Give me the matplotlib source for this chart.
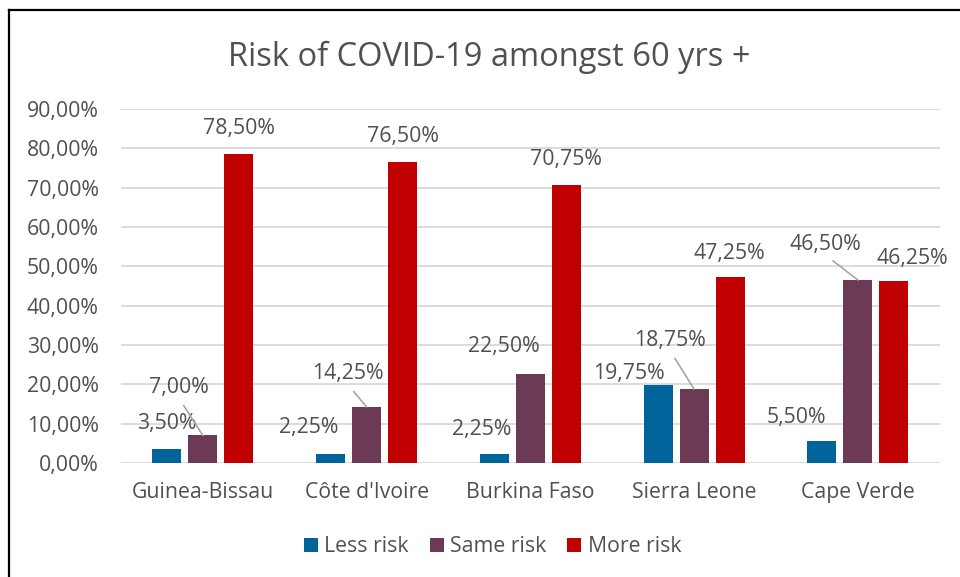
import matplotlib
matplotlib.use("Agg")
import matplotlib.pyplot as plt
from matplotlib.lines import Line2D
import numpy as np

# data
countries = ["Guinea-Bissau", "Côte d'Ivoire", "Burkina Faso", "Sierra Leone", "Cape Verde"]
less_risk = [3.50, 2.25, 2.25, 19.75, 5.50]
same_risk = [7.00, 14.25, 22.50, 18.75, 46.50]
more_risk = [78.50, 76.50, 70.75, 47.25, 46.25]
series_names = ["Less risk", "Same risk", "More risk"]
y_ticks = [0, 10, 20, 30, 40, 50, 60, 70, 80, 90]

colors = ["#00649A", "#6D3A55", "#C00000"]
text_grey = "#505050"
fs = 15.3
plt.rcParams["font.family"] = ["Open Sans", "DejaVu Sans"]

# label nudges (pixels) so the labels sit like in the original, leader = draw a line
label_moves = [
    [(0, 26, False), (-22, 27, False), (-13, 25, False), (-29, 12, False), (-25, 24, False)],
    [(-24, 48, True), (-19, 33, True), (-27, 28, False), (-24, 49, True), (-33, 36, True)],
    [(0, 26, False), (0, 26, False), (0, 25, False), (-1, 24, False), (18, 23, False)],
]

fig = plt.figure(figsize=(9.6, 5.77), dpi=100)
ax = fig.add_axes([0.126, 0.1976, 0.853, 0.6135])

x = np.arange(len(countries))
width = 0.177
step = 0.22
all_series = [less_risk, same_risk, more_risk]

for i, vals in enumerate(all_series):
    pos = x + (i - 1) * step
    ax.bar(pos, vals, width, color=colors[i], label=series_names[i], zorder=3)
    for j, v in enumerate(vals):
        dx, dy, leader = label_moves[i][j]
        txt = f"{v:.2f}%".replace(".", ",")
        if leader:
            ax.annotate(txt, xy=(pos[j], v), xytext=(dx, dy), textcoords="offset pixels",
                        ha="center", va="center", fontsize=fs, color=text_grey,
                        arrowprops=dict(arrowstyle="-", color="#A6A6A6", lw=1.2,
                                        shrinkA=4, shrinkB=0, relpos=(0.5, 0)))
        else:
            ax.annotate(txt, xy=(pos[j], v), xytext=(dx, dy), textcoords="offset pixels",
                        ha="center", va="center", fontsize=fs, color=text_grey)

ax.set_xlim(-0.5, len(countries) - 0.5)
ax.set_ylim(0, 90)
ax.set_yticks(y_ticks)
ax.set_yticklabels([f"{t:.2f}%".replace(".", ",") for t in y_ticks])
ax.set_xticks(x)
ax.set_xticklabels(countries)
ax.tick_params(axis="both", length=0, labelsize=fs, labelcolor=text_grey)
ax.tick_params(axis="y", pad=16)
ax.tick_params(axis="x", pad=14)
ax.grid(axis="y", color="#D9D9D9", linewidth=1.3, zorder=0)
for s in ax.spines.values():
    s.set_visible(False)

fig.suptitle("Risk of COVID-19 amongst 60 yrs +", x=0.51, y=0.93, fontsize=23.5,
             color=text_grey)

fig.legend(loc="center", bbox_to_anchor=(0.513, 0.052), ncol=3, frameon=False,
           fontsize=fs, labelcolor=text_grey, handlelength=0.65, handleheight=0.65,
           handletextpad=0.3, columnspacing=1.0)

# chart border (only left and top visible in the crop)
fig.add_artist(Line2D([9 / 960, 9 / 960], [0, 1 - 10 / 577], transform=fig.transFigure,
                      color="black", lw=1.6))
fig.add_artist(Line2D([9 / 960, 1], [1 - 10 / 577, 1 - 10 / 577], transform=fig.transFigure,
                      color="black", lw=1.6))

fig.savefig("out.png", dpi=100)
